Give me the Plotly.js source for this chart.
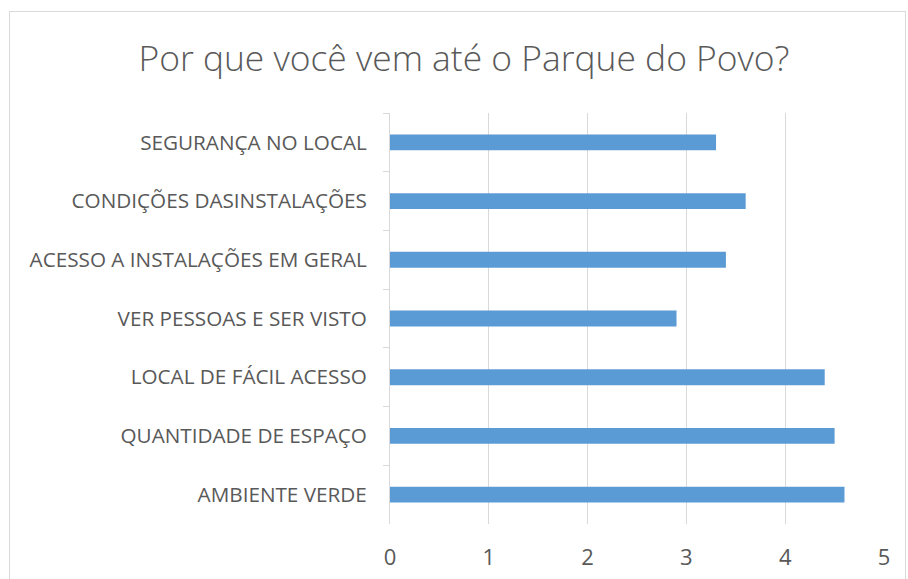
<!DOCTYPE html>
<html>
<head>
<meta charset="utf-8">
<script src="https://cdn.plot.ly/plotly-3.0.1.min.js"></script>
<style>
html,body{margin:0;padding:0;background:#fff;overflow:hidden;}
#frame{position:absolute;left:9px;top:11px;width:897px;height:600px;border:1px solid #d9d9d9;box-sizing:border-box;}
#chart{position:absolute;left:0;top:0;width:908px;height:579px;}
</style>
</head>
<body>
<div id="frame"></div>
<div id="chart"></div>
<script>
const categories = [
  "SEGURANÇA NO LOCAL",
  "CONDIÇÕES DASINSTALAÇÕES",
  "ACESSO A INSTALAÇÕES EM GERAL",
  "VER PESSOAS E SER VISTO",
  "LOCAL DE FÁCIL ACESSO",
  "QUANTIDADE DE ESPAÇO",
  "AMBIENTE VERDE"
];
const values = [3.3, 3.6, 3.4, 2.9, 4.4, 4.5, 4.6];
const xTicks = [0, 1, 2, 3, 4, 5];
const titleText = "Por que você vem até o Parque do Povo?";

const trace = {
  type: "bar",
  orientation: "h",
  y: categories,
  x: values,
  width: 0.27,
  marker: {color: "#5b9bd5"},
  hoverinfo: "x+y"
};

const layout = {
  width: 908,
  height: 579,
  paper_bgcolor: "rgba(0,0,0,0)",
  plot_bgcolor: "rgba(0,0,0,0)",
  margin: {l: 390, r: 24, t: 113, b: 55},
  showlegend: false,
  font: {family: "Open Sans, sans-serif", color: "#595959"},
  title: {
    text: titleText,
    font: {family: "Open Sans, sans-serif", size: 35.4, color: "#595959", weight: 300},
    x: 0.511, xref: "container", xanchor: "center",
    y: 0.898, yref: "container", yanchor: "middle"
  },
  xaxis: {
    range: [0, 5],
    tickvals: xTicks,
    ticktext: xTicks.map(String),
    showgrid: true,
    gridcolor: "#d9d9d9",
    gridwidth: 1,
    zeroline: false,
    showline: false,
    ticks: "",
    ticklabelstandoff: 18,
    tickfont: {size: 22, color: "#595959"},
    fixedrange: true
  },
  yaxis: {
    type: "category",
    autorange: "reversed",
    showline: true,
    linecolor: "#d9d9d9",
    linewidth: 1,
    showgrid: false,
    zeroline: false,
    ticks: "outside",
    tickson: "boundaries",
    ticklen: 6,
    tickcolor: "#d9d9d9",
    ticklabelstandoff: 18,
    tickfont: {size: 20.7, color: "#595959"},
    fixedrange: true
  }
};

Plotly.newPlot("chart", [trace], layout, {displayModeBar: false, staticPlot: true});
</script>
</body>
</html>
